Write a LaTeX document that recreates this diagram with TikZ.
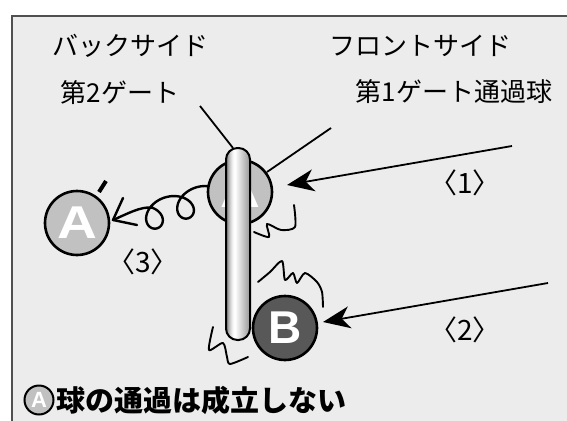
\documentclass[tikz,border=0pt]{standalone}
\usepackage{fontspec}
\setmainfont{Noto Sans CJK JP}
\newfontfamily\jpmed{Noto Sans CJK JP}
\newfontfamily\latinbold{Liberation Sans}[BoldFont={Liberation Sans Bold}]
\usetikzlibrary{arrows.meta}

\definecolor{panel}{RGB}{236,236,236}
\definecolor{framec}{RGB}{80,80,80}
\definecolor{ballA}{RGB}{192,193,192}
\definecolor{ballB}{RGB}{88,88,88}
\definecolor{poledark}{RGB}{120,120,120}
\definecolor{polemid}{RGB}{150,150,150}

\begin{document}
\begin{tikzpicture}[x=1pt,y=-1pt,
  lbl/.style={font=\jpmed\fontsize{26}{26}\selectfont, inner sep=0pt},
  num/.style={font=\jpmed\fontsize{28}{28}\selectfont, inner sep=0pt},
  ball/.style={circle, draw=black, line width=2.6pt, minimum size=64pt,
    inner sep=0pt, text=white,
    font=\latinbold\bfseries\fontsize{46}{46}\selectfont},
  leader/.style={line width=1.8pt},
  shot/.style={line width=1.8pt,
    -{Stealth[length=27pt,width=22pt,inset=8pt]}},
  curl/.style={line width=2.4pt, line cap=round, line join=round},
  shock/.style={line width=1.9pt, line cap=round, line join=round},
]
\useasboundingbox (0,0) rectangle (567,420);
\fill[white] (0,0) rectangle (567,420);
\begin{scope}
  \clip (0,0) rectangle (567,420);
  \draw[framec, line width=2pt, fill=panel] (12,16) rectangle (600,460);
\end{scope}

% headings
\node[lbl] (back)  at (130,46) {バックサイド};
\node[lbl] (front) at (420,46) {フロントサイド};
\node[lbl] (gate2) at (120,93) {第2ゲート};
\node[lbl] (gate1) at (454,92) {第1ゲート通過球};

% ball A, hidden behind the gate post
\node[ball, fill=ballA] (A) at (240,192) {\scalebox{1.2}[1]{A}};

% leader lines
\coordinate (g2from) at (200,106);
\coordinate (g2to)   at (233,148);
\draw[leader] (g2from) -- (g2to);
\coordinate (g1from) at (331,128);
\coordinate (g1to)   at (267,172);
\draw[leader] (g1from) -- (g1to);

% gate post: a metal bar lit from the left, built from thin strips
\coordinate (poletop) at (238,148);
\coordinate (polebot) at (238,340);
\begin{scope}
  \clip[rounded corners=11.5pt] (226,148) rectangle (250,340);
  \foreach \i in {0,...,17}{
    \pgfmathsetmacro{\p}{100*sin(90*\i/18)}
    \fill[white!\p!poledark] (226+\i/2,140) rectangle (226.6+\i/2,350);
  }
  \foreach \i in {18,...,47}{
    \pgfmathsetmacro{\p}{100*(1-(\i-18)/30)}
    \fill[white!\p!polemid] (226+\i/2,140) rectangle (226.6+\i/2,350);
  }
\end{scope}
\draw[line width=2pt, rounded corners=11.5pt] (226,148) rectangle (250,340);

% ball A' after the rebound, and ball B
\node[ball, fill=ballA] (A2) at (77,223) {\scalebox{1.2}[1]{A}};
\draw[line width=4pt] (99,192) -- (106,181);
\node[ball, fill=ballB] (B) at (285,328) {B};

% incoming shots
\coordinate (s1) at (512,146);
\coordinate (t1) at (287,185);
\draw[shot] (s1) -- (t1);
\coordinate (s2) at (548,283);
\coordinate (t2) at (323,322);
\draw[shot] (s2) -- (t2);

\node[num] (l1) at (465,183) {〈1〉};
\node[num] (l2) at (465,330) {〈2〉};
\node[num] (l3) at (143,262) {〈3〉};

% looping path of the rebound: two loops, then straight on to the tip
\coordinate (c3tip) at (113,220);
\coordinate (c3up)  at (123,198);
\coordinate (c3low) at (137,225);
\draw[curl] plot[domain=-3.77:8.45, samples=140, smooth, variable=\t]
  ({184.2 - 0.951*(5.2*\t - 15.5*sin(\t r)) + 0.307*13.5*cos(\t r)},
   {205.4 + 0.307*(5.2*\t - 15.5*sin(\t r)) + 0.951*13.5*cos(\t r)})
  .. controls (141,206) and (127,214) .. (c3tip);
\draw[curl] (c3up) -- (c3tip) -- (c3low);

% impact marks
\draw[shock] plot[smooth, tension=0.45] coordinates
  {(254,232) (269,237) (267,224) (281,230) (295,227) (294,205)};
\draw[shock] plot[smooth, tension=0.45] coordinates
  {(258,282) (270,272) (282,261) (285,280) (293,273) (297,283)
   (305,273) (317,282) (322,292) (323,307)};
\draw[shock] plot[smooth, tension=0.45] coordinates
  {(213,327) (209,350) (223,343) (227,357) (230,364) (248,357)};

% note
\node[circle, draw=black, line width=2pt, fill=ballA, minimum size=29pt,
      inner sep=0pt, text=white,
      font=\latinbold\bfseries\fontsize{22}{22}\selectfont] (key) at (39,400) {A};
\node[anchor=west, inner sep=0pt,
      font=\bfseries\fontsize{29}{29}\selectfont] (note) at (56,400)
      {球の通過は成立しない};
\end{tikzpicture}
\end{document}
